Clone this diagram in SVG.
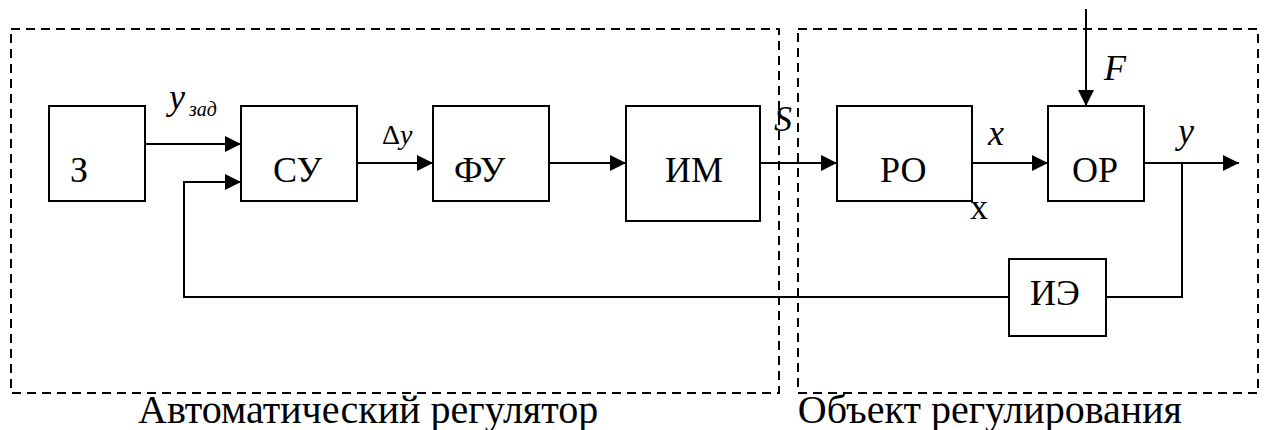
<svg xmlns="http://www.w3.org/2000/svg" width="1264" height="430" viewBox="0 0 1264 430">
  <style>
    .frame { fill: none; stroke: #000; stroke-width: 2; stroke-dasharray: 9 6; }
    .box { fill: #fff; stroke: #000; stroke-width: 2; }
    .wire { fill: none; stroke: #000; stroke-width: 2; }
    text { font-family: "Liberation Serif", Tinos, "Times New Roman", "DejaVu Serif", serif; fill: #000; }
    .lbl { font-size: 36px; }
    .var { font-size: 36px; font-style: italic; }
    .sub { font-size: 20px; font-style: italic; }
    .cap { font-size: 40px; }
  </style>
  <defs>
    <marker id="arrow" viewBox="0 0 16 16" refX="16" refY="8" markerWidth="16" markerHeight="16" markerUnits="userSpaceOnUse" orient="auto">
      <path d="M0,0 L16,8 L0,16 Z" fill="#000"/>
    </marker>
  </defs>

  <!-- dashed subsystem frames -->
  <g id="frames">
    <rect id="regulator-frame" class="frame" x="11" y="29" width="768" height="364"/>
    <rect id="object-frame" class="frame" x="798" y="29" width="460" height="364"/>
  </g>

  <!-- connectors -->
  <g id="connectors">
    <path class="wire" d="M145,144 H241" marker-end="url(#arrow)"/>
    <path class="wire" d="M1009,297 H184 V182 H241" marker-end="url(#arrow)"/>
    <path class="wire" d="M357,163 H433" marker-end="url(#arrow)"/>
    <path class="wire" d="M549,163 H626" marker-end="url(#arrow)"/>
    <path class="wire" d="M760,163 H837" marker-end="url(#arrow)"/>
    <path class="wire" d="M972,163 H1048" marker-end="url(#arrow)"/>
    <path class="wire" d="M1086,9 V106" marker-end="url(#arrow)"/>
    <path class="wire" d="M1144,163 H1239" marker-end="url(#arrow)"/>
    <path class="wire" d="M1106,297 H1182 V163"/>
  </g>

  <!-- blocks -->
  <g id="node-z">
    <rect class="box" x="49" y="106" width="96" height="95"/>
    <text class="lbl" x="70" y="182">З</text>
  </g>
  <g id="node-su">
    <rect class="box" x="241" y="106" width="116" height="95"/>
    <text class="lbl" x="273" y="182">СУ</text>
  </g>
  <g id="node-fu">
    <rect class="box" x="433" y="106" width="116" height="95"/>
    <text class="lbl" x="454" y="182">ФУ</text>
  </g>
  <g id="node-im">
    <rect class="box" x="626" y="106" width="134" height="115"/>
    <text class="lbl" x="665" y="182">ИМ</text>
  </g>
  <g id="node-ro">
    <rect class="box" x="837" y="106" width="135" height="95"/>
    <text class="lbl" x="880" y="182">РО</text>
  </g>
  <g id="node-or">
    <rect class="box" x="1048" y="106" width="96" height="95"/>
    <text class="lbl" x="1072" y="182">ОР</text>
  </g>
  <g id="node-ie">
    <rect class="box" x="1009" y="259" width="97" height="77"/>
    <text class="lbl" x="1030" y="305">ИЭ</text>
  </g>

  <!-- signal labels -->
  <g id="labels">
    <text class="var" x="169" y="109">y</text>
    <text class="sub" x="189" y="116">зад</text>
    <text x="382" y="144" font-size="28">Δ<tspan font-style="italic">y</tspan></text>
    <text class="var" x="774" y="131">S</text>
    <text class="var" x="988" y="145">x</text>
    <text class="lbl" x="970" y="219">x</text>
    <text class="var" x="1104" y="80">F</text>
    <text class="var" x="1178" y="143">y</text>
  </g>

  <!-- captions -->
  <g id="captions">
    <text class="cap" x="138" y="423">Автоматический регулятор</text>
    <text class="cap" x="1182" y="423" text-anchor="end">Объект регулирования</text>
  </g>
</svg>
